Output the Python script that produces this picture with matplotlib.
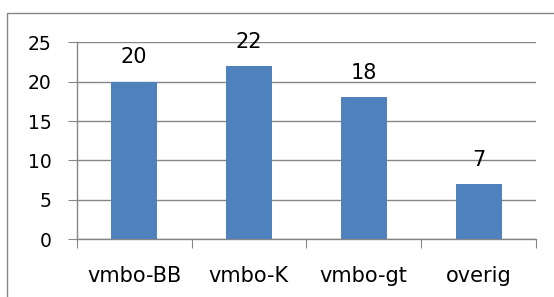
import matplotlib
matplotlib.use("Agg")
import matplotlib.pyplot as plt
from matplotlib.patches import Rectangle

categories = ["vmbo-BB", "vmbo-K", "vmbo-gt", "overig"]
values = [20, 22, 18, 7]
yticks = [0, 5, 10, 15, 20, 25]

BAR = "#4F81BD"
GRID = "#868686"
plt.rcParams["font.family"] = ["DejaVu Sans"]

fig = plt.figure(figsize=(5.54, 2.97), dpi=100)
ax = fig.add_axes([0.1384, 0.1943, 0.8291, 0.6633])

# outer chart border (cut off at right/bottom like the reference)
fig.patches.append(Rectangle((7 / 554, -0.2), 1.2, 0.956 + 0.2, transform=fig.transFigure,
                             fill=False, edgecolor=GRID, linewidth=1.0))

x = list(range(len(categories)))
bars = ax.bar(x, values, width=0.4, color=BAR, zorder=3)
for b, v in zip(bars, values):
    ax.annotate(str(v), (b.get_x() + b.get_width() / 2, v), xytext=(0, 13.2),
                textcoords="offset points", ha="center", va="baseline", fontsize=15)

ax.set_xlim(-0.5, len(categories) - 0.5)
ax.set_ylim(0, 25)
ax.set_yticks(yticks)
ax.set_yticklabels([str(t) for t in yticks], fontsize=13.5)
ax.yaxis.grid(True, color=GRID, linewidth=1.0, zorder=0)
ax.set_axisbelow(True)

ax.set_xticks([i - 0.5 for i in range(len(categories) + 1)])
ax.set_xticklabels([])
ax.set_xticks(x, minor=True)
ax.set_xticklabels(categories, minor=True, fontsize=15, va="baseline")
ax.tick_params(axis="x", which="major", length=6.3, color=GRID, direction="out")
ax.tick_params(axis="x", which="minor", length=0, pad=31)
ax.tick_params(axis="y", length=6.3, color=GRID, pad=12)

for s in ["top", "right"]:
    ax.spines[s].set_visible(False)
for s in ["left", "bottom"]:
    ax.spines[s].set_color(GRID)
    ax.spines[s].set_linewidth(1.0)

fig.savefig("out.png", dpi=100)
